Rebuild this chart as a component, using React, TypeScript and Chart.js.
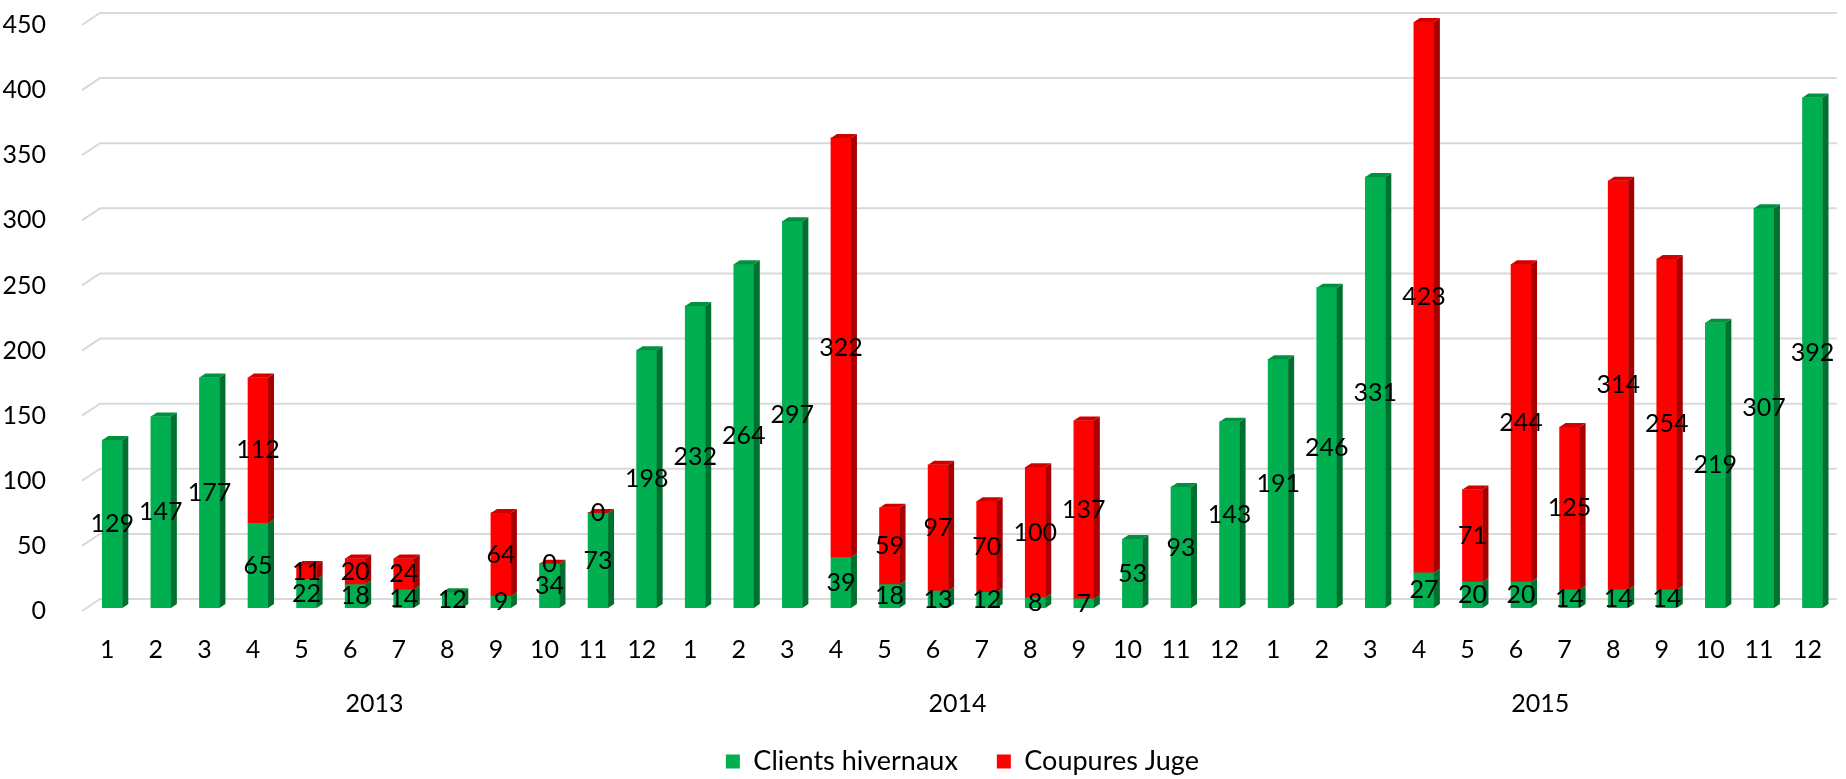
import React, { useEffect, useRef } from "react";
import { Chart, registerables } from "chart.js";

Chart.register(...registerables);

const monthLabels = ["1", "2", "3", "4", "5", "6", "7", "8", "9", "10", "11", "12"];
const years = ["2013", "2014", "2015"];

const clientsHivernaux = [
  129, 147, 177, 65, 22, 18, 14, 12, 9, 34, 73, 198,
  232, 264, 297, 39, 18, 13, 12, 8, 7, 53, 93, 143,
  191, 246, 331, 27, 20, 20, 14, 14, 14, 219, 307, 392,
];

const coupuresJuge: (number | null)[] = [
  null, null, null, 112, 11, 20, 24, null, 64, 0, 0, null,
  null, null, null, 322, 59, 97, 70, 100, 137, null, null, null,
  null, null, null, 423, 71, 244, 125, 314, 254, null, null, null,
];

const yTicks = { min: 0, max: 450, step: 50 };

const FONT = "Lato, 'Open Sans', sans-serif";
const GREEN = "#00b050";
const GREEN_SIDE = "#00702f";
const GREEN_TOP = "#00913f";
const RED = "#ff0000";
const RED_SIDE = "#a80000";
const RED_TOP = "#d00000";

const DX = 6;
const DY = 4;

const categories = years.flatMap(() => monthLabels);

const gridPlugin = {
  id: "grid3d",
  beforeDatasetsDraw(chart: any) {
    const { ctx, chartArea, scales } = chart;
    const y = scales.y;
    ctx.save();
    ctx.strokeStyle = "#d9d9d9";
    ctx.lineWidth = 2;
    y.ticks.forEach((t: any) => {
      const py = y.getPixelForValue(t.value);
      ctx.beginPath();
      ctx.moveTo(chartArea.left - 6, py + 3);
      ctx.lineTo(chartArea.left + 12, py - 9);
      ctx.lineTo(chartArea.right, py - 9);
      ctx.stroke();
    });
    ctx.restore();
  },
};

const bar3dPlugin = {
  id: "bar3d",
  afterDatasetsDraw(chart: any) {
    const { ctx } = chart;
    const sides = [GREEN_SIDE, RED_SIDE];
    const tops = [GREEN_TOP, RED_TOP];
    ctx.save();
    chart.data.datasets.forEach((ds: any, di: number) => {
      const meta = chart.getDatasetMeta(di);
      meta.data.forEach((el: any, i: number) => {
        const v = ds.data[i];
        if (v === null || v === undefined) return;
        const { x, y, base, width } = el.getProps(["x", "y", "base", "width"], true);
        const l = x - width / 2;
        const r = x + width / 2;
        if (base - y > 0) {
          ctx.fillStyle = sides[di];
          ctx.beginPath();
          ctx.moveTo(r, y);
          ctx.lineTo(r + DX, y - DY);
          ctx.lineTo(r + DX, base - DY);
          ctx.lineTo(r, base);
          ctx.closePath();
          ctx.fill();
        }
        let topmost = true;
        for (let k = di + 1; k < chart.data.datasets.length; k++) {
          const w = chart.data.datasets[k].data[i];
          if (w !== null && w !== undefined) topmost = false;
        }
        if (topmost) {
          ctx.fillStyle = tops[di];
          ctx.beginPath();
          ctx.moveTo(l, y);
          ctx.lineTo(l + DX, y - DY);
          ctx.lineTo(r + DX, y - DY);
          ctx.lineTo(r, y);
          ctx.closePath();
          ctx.fill();
        }
      });
    });
    ctx.restore();
  },
  afterDraw(chart: any) {
    const { ctx, scales } = chart;
    ctx.save();
    ctx.fillStyle = "#000";
    ctx.textAlign = "center";
    ctx.textBaseline = "middle";
    ctx.font = `25px ${FONT}`;
    chart.data.datasets.forEach((ds: any, di: number) => {
      const meta = chart.getDatasetMeta(di);
      meta.data.forEach((el: any, i: number) => {
        const v = ds.data[i];
        if (v === null || v === undefined) return;
        const { x, y, base } = el.getProps(["x", "y", "base"], true);
        ctx.fillText(String(v), x, (y + base) / 2);
      });
    });
    const xs = scales.x;
    years.forEach((yr, g) => {
      const a = xs.getPixelForValue(g * 12);
      const b = xs.getPixelForValue(g * 12 + 11);
      ctx.fillText(yr, (a + b) / 2 - 5, 704);
    });
    ctx.restore();
  },
};

export default function App() {
  const ref = useRef<HTMLCanvasElement | null>(null);

  useEffect(() => {
    document.body.style.margin = "0";
    if (!ref.current) return;
    const chart = new Chart(ref.current, {
      type: "bar",
      data: {
        labels: categories,
        datasets: [
          {
            label: "Clients hivernaux",
            data: clientsHivernaux,
            backgroundColor: GREEN,
            barThickness: 20,
            stack: "s",
          },
          {
            label: "Coupures Juge",
            data: coupuresJuge,
            backgroundColor: RED,
            barThickness: 20,
            stack: "s",
          },
        ],
      },
      options: {
        responsive: false,
        animation: false,
        devicePixelRatio: 1,
        layout: { padding: { top: 22, left: 0, right: 0, bottom: -6 } },
        plugins: {
          legend: {
            position: "bottom",
            fullSize: false,
            labels: {
              boxWidth: 14,
              boxHeight: 14,
              padding: 39,
              color: "#000",
              font: { family: FONT, size: 27 },
            },
          },
          tooltip: { enabled: false },
        },
        scales: {
          x: {
            stacked: true,
            grid: { display: false },
            border: { display: false },
            ticks: {
              color: "#000",
              font: { family: FONT, size: 25 },
              padding: 19,
              labelOffset: -5,
              autoSkip: false,
              maxRotation: 0,
            },
            afterFit: (scale: any) => {
              scale.height = 101;
            },
          },
          y: {
            stacked: true,
            min: yTicks.min,
            max: yTicks.max,
            grid: { display: false },
            border: { display: false },
            ticks: {
              stepSize: yTicks.step,
              color: "#000",
              font: { family: FONT, size: 25 },
              padding: 34,
              labelOffset: 3,
            },
            afterFit: (scale: any) => {
              scale.width = 88;
              scale.paddingTop = 0;
              scale.paddingBottom = 0;
            },
          },
        },
      },
      plugins: [gridPlugin, bar3dPlugin],
    });
    return () => chart.destroy();
  }, []);

  return (
    <div style={{ width: 1846, height: 779 }}>
      <canvas ref={ref} width={1846} height={779} />
    </div>
  );
}
